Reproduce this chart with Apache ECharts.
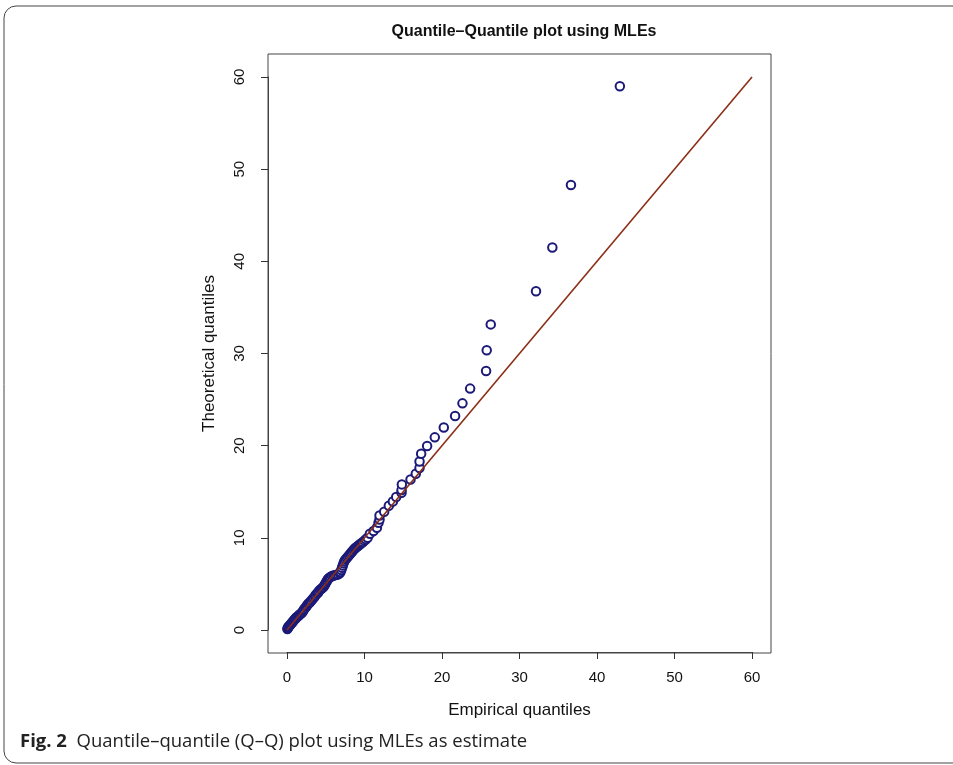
<!DOCTYPE html>
<html>
<head>
<meta charset="utf-8">
<title>Quantile-Quantile plot using MLEs</title>
<script src="https://cdn.jsdelivr.net/npm/echarts@6/dist/echarts.min.js"></script>
<style>
	html, body { margin: 0; padding: 0; background: #fff; }
	#qq { width: 953px; height: 765px; }
</style>
</head>
<body>
<div id="qq"></div>
<script>
	// empirical quantiles (x) and theoretical quantiles (y)
	var empirical = [
		0.05, 0.1, 0.15, 0.2, 0.3, 0.4, 0.5, 0.6, 0.7, 0.8, 0.9, 1.0, 1.1, 1.2, 1.35, 1.5, 1.6, 1.75, 1.9, 2.0,
		2.1, 2.2, 2.35, 2.5, 2.6, 2.75, 2.9, 3.0, 3.15, 3.3, 3.45, 3.6, 3.7, 3.85, 4.0, 4.1, 4.25, 4.4, 4.55, 4.7,
		4.8, 4.9, 5.0, 5.1, 5.2, 5.3, 5.45, 5.6, 5.8, 6.0, 6.2, 6.4, 6.6, 6.8, 6.9, 7.0, 7.1, 7.2, 7.3, 7.4,
		7.55, 7.7, 7.85, 8.0, 8.15, 8.3, 8.45, 8.6, 8.75, 8.9, 9.05, 9.2, 9.35, 9.5, 9.65, 9.8, 10.0, 10.2, 10.4, 10.7,
		11.17, 11.6, 11.81, 11.94, 11.94, 12.54, 13.14, 13.66, 14.09, 14.78, 14.78, 14.82, 15.94, 16.62, 17.1, 17.1, 17.31, 18.08, 19.07, 20.23,
		21.69, 22.64, 23.63, 25.69, 25.77, 26.29, 32.13, 34.24, 36.64, 42.95
	];
	var theoretical = [
		0.1, 0.2, 0.3, 0.35, 0.45, 0.55, 0.65, 0.75, 0.85, 0.95, 1.05, 1.15, 1.25, 1.35, 1.45, 1.55, 1.65, 1.75, 1.85, 1.95,
		2.1, 2.25, 2.4, 2.55, 2.7, 2.85, 2.95, 3.05, 3.2, 3.35, 3.5, 3.65, 3.8, 3.95, 4.05, 4.2, 4.35, 4.45, 4.55, 4.65,
		4.8, 4.95, 5.1, 5.25, 5.4, 5.55, 5.65, 5.75, 5.85, 5.9, 5.95, 6.0, 6.05, 6.15, 6.3, 6.5, 6.75, 7.0, 7.25, 7.45,
		7.65, 7.8, 7.95, 8.1, 8.25, 8.4, 8.55, 8.7, 8.85, 8.95, 9.05, 9.15, 9.25, 9.35, 9.45, 9.55, 9.7, 9.85, 10.0, 10.45,
		10.74, 11.1, 11.63, 11.98, 12.43, 12.83, 13.49, 13.94, 14.43, 14.9, 15.18, 15.8, 16.33, 16.96, 17.58, 18.29, 19.13, 19.97, 20.9, 21.97,
		23.21, 24.59, 26.19, 28.1, 30.36, 33.16, 36.75, 41.5, 48.29, 58.99
	];
	var refLine = [0, 60];   // y = x reference line
	var axisMin = 0, axisMax = 60, tickStep = 10;

	var points = empirical.map(function (v, i) { return [v, theoretical[i]]; });
	var linePts = refLine.map(function (v) { return [v, v]; });

	var myChart = echarts.init(document.getElementById('qq'));
	var axisFont = 'Liberation Sans, Arial, Helvetica, sans-serif';

	// grid covers 0..60 on both axes; the R-style box sits 4% outside it,
	// and the axes are pushed out onto the box with offset
	var option = {
		backgroundColor: '#fff',
		animation: false,
		title: {
			text: 'Quantile\u2013Quantile plot using MLEs',
			left: 519,
			top: 19,
			textAlign: 'center',
			textStyle: {
				fontFamily: axisFont,
				fontSize: 16,
				fontWeight: 'bold',
				color: '#111'
			}
		},
		grid: {
			left: 287,
			right: 201,
			top: 77,
			bottom: 135,
			containLabel: false
		},
		xAxis: {
			type: 'value',
			min: axisMin,
			max: axisMax,
			interval: tickStep,
			offset: 22,
			name: 'Empirical quantiles',
			nameLocation: 'middle',
			nameGap: 50,
			nameTextStyle: { fontFamily: axisFont, fontSize: 17, color: '#111' },
			axisLine: { show: true, onZero: false, lineStyle: { color: '#444', width: 1 } },
			axisTick: { show: true, length: 7, inside: false, lineStyle: { color: '#333', width: 1 } },
			axisLabel: { margin: 18, fontFamily: axisFont, fontSize: 15, color: '#111' },
			splitLine: { show: false }
		},
		yAxis: {
			type: 'value',
			min: axisMin,
			max: axisMax,
			interval: tickStep,
			offset: 19,
			name: 'Theoretical quantiles',
			nameLocation: 'middle',
			nameGap: 50,
			nameRotate: 90,
			nameTextStyle: { fontFamily: axisFont, fontSize: 17, color: '#111' },
			axisLine: { show: true, onZero: false, lineStyle: { color: '#444', width: 1 } },
			axisTick: { show: true, length: 7, inside: false, lineStyle: { color: '#333', width: 1 } },
			axisLabel: { rotate: 90, margin: 21, fontFamily: axisFont, fontSize: 15, color: '#111' },
			splitLine: { show: false }
		},
		series: [
			{
				name: 'quantiles',
				type: 'scatter',
				symbol: 'emptyCircle',
				symbolSize: 8.5,
				clip: false,
				itemStyle: {
					color: '#1c1a78',
					borderColor: '#1c1a78',
					borderWidth: 1.8,
					opacity: 1
				},
				z: 2,
				data: points
			},
			{
				name: 'y = x',
				type: 'line',
				symbol: 'none',
				clip: false,
				lineStyle: { color: '#8b2e16', width: 1.6 },
				z: 3,
				data: linePts
			}
		],
		graphic: [
			{
				// outer figure frame
				type: 'rect',
				shape: { x: 4, y: 6, width: 1000, height: 757, r: 12 },
				style: { fill: 'none', stroke: '#444', lineWidth: 1 },
				silent: true
			},
			{
				// plot box
				type: 'rect',
				shape: { x: 268, y: 54, width: 503, height: 599 },
				style: { fill: 'none', stroke: '#444', lineWidth: 1 },
				silent: true
			},
			{
				type: 'text',
				left: 20,
				top: 732,
				style: {
					text: '{b|Fig. 2}  Quantile\u2013quantile (Q\u2013Q) plot using MLEs as estimate',
					fontFamily: 'Open Sans, Noto Sans, sans-serif',
					fontSize: 18.5,
					fill: '#222',
					rich: {
						b: { fontWeight: 'bold', fontFamily: 'Open Sans, Noto Sans, sans-serif', fontSize: 18.5, fill: '#222' }
					}
				}
			}
		]
	};
	myChart.setOption(option);
</script>
</body>
</html>
